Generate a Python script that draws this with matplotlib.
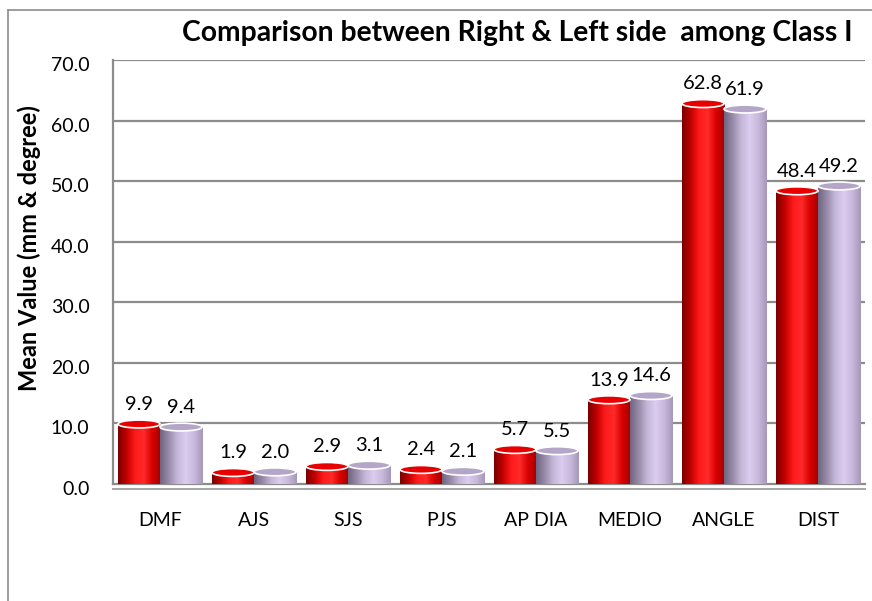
import numpy as np
import matplotlib.pyplot as plt
import matplotlib.transforms as mtransforms
from matplotlib.patches import Rectangle, Ellipse
from matplotlib.colors import LinearSegmentedColormap
from matplotlib.lines import Line2D

plt.rcParams['font.family'] = ['Lato', 'DejaVu Sans']

categories = ["DMF", "AJS", "SJS", "PJS", "AP DIA", "MEDIO", "ANGLE", "DIST"]
right_side = [9.9, 1.9, 2.9, 2.4, 5.7, 13.9, 62.8, 48.4]
left_side = [9.4, 2.0, 3.1, 2.1, 5.5, 14.6, 61.9, 49.2]
yticks = [0, 10, 20, 30, 40, 50, 60, 70]

# cylinder shading (left -> right)
red_cmap = LinearSegmentedColormap.from_list(
    "red_cyl", ["#7a0000", "#c00000", "#ff1a1a", "#ff2a2a", "#d80000", "#a00000"])
lav_cmap = LinearSegmentedColormap.from_list(
    "lav_cyl", ["#6e6480", "#978aa8", "#c4b6d8", "#dccdf0", "#c8b8dc", "#a597b8"])

fig = plt.figure(figsize=(8.72, 6.01), dpi=100)
ax = fig.add_axes([0.1296, 0.1947, 0.8624, 0.7055])

width = 0.447
x = np.arange(len(categories))
grad = np.linspace(0, 1, 256).reshape(1, -1)
ell_h = 1.3


def cylinder(x0, h, cmap, top_color):
    rect = Rectangle((x0, 0), width, h, transform=ax.transData, facecolor="none", edgecolor="none")
    ax.add_patch(rect)
    im = ax.imshow(grad, cmap=cmap, extent=(x0, x0 + width, 0, h), aspect="auto", zorder=3)
    im.set_clip_path(rect)
    ax.add_patch(Ellipse((x0 + width / 2, h), width, ell_h, facecolor=top_color,
                         edgecolor="white", lw=1.2, zorder=4))


for i in range(len(categories)):
    cylinder(x[i] - width, right_side[i], red_cmap, "#e80000")
    cylinder(x[i], left_side[i], lav_cmap, "#b4a6c8")
    ax.annotate(f"{right_side[i]:.1f}", (x[i] - width / 2, right_side[i]), xytext=(0, 8),
                textcoords="offset points", ha="center", va="bottom", fontsize=14.5)
    ax.annotate(f"{left_side[i]:.1f}", (x[i] + width / 2, left_side[i]), xytext=(0, 8),
                textcoords="offset points", ha="center", va="bottom", fontsize=14.5)

ax.set_xlim(-0.5, 7.5)
ax.set_ylim(0, 70)
ax.set_yticks(yticks)
ax.set_yticklabels([f"{v:.1f}" for v in yticks], fontsize=14)
ax.set_xticks(x)
ax.set_xticklabels(categories, fontsize=14)
ax.tick_params(axis="y", length=0, pad=17)
ax.tick_params(axis="x", length=0, pad=20)
shift = mtransforms.ScaledTranslation(0, -4 / 100, fig.dpi_scale_trans)
for lab in ax.get_yticklabels():
    lab.set_transform(lab.get_transform() + shift)

for v in yticks[1:]:
    ax.axhline(v, color="#8c8c8c", lw=1.6, zorder=1)
for s in ["top", "right"]:
    ax.spines[s].set_visible(False)
ax.spines["left"].set_color("#8c8c8c")
ax.spines["left"].set_linewidth(1.6)
ax.spines["bottom"].set_color("#8c8c8c")
ax.spines["bottom"].set_linewidth(1.6)

# front edge of the chart floor
floor = mtransforms.offset_copy(ax.transAxes, fig=fig, x=0, y=-5, units="dots")
ax.plot([0, 1], [0, 0], color="#a6a6a6", lw=1.4, transform=floor, clip_on=False, zorder=2)

fig.text(0.593, 0.945, "Comparison between Right & Left side  among Class I",
         ha="center", va="center", fontsize=20.3, fontweight="bold")
fig.text(0.034, 0.587, "Mean Value (mm & degree)", rotation=90,
         ha="center", va="center", fontsize=17, fontweight="bold")

# outer chart border (right and bottom edges fall outside the image)
bx, by = 8 / 872, 1 - 10 / 601
fig.add_artist(Line2D([bx, bx], [0, by], color="#8c8c8c", lw=1.2, transform=fig.transFigure))
fig.add_artist(Line2D([bx, 1], [by, by], color="#8c8c8c", lw=1.2, transform=fig.transFigure))

fig.savefig("out.png", dpi=100)
